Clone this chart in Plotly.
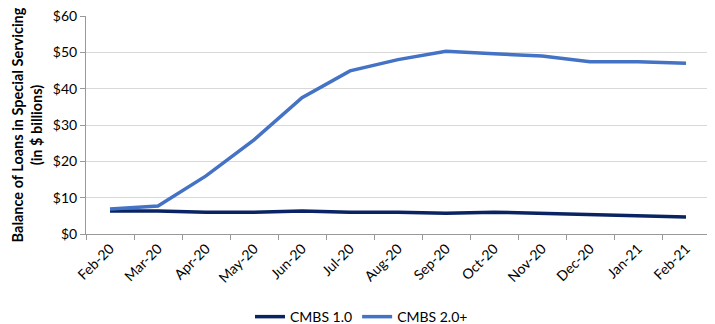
import plotly.graph_objects as go

months = ["Feb-20", "Mar-20", "Apr-20", "May-20", "Jun-20", "Jul-20", "Aug-20",
          "Sep-20", "Oct-20", "Nov-20", "Dec-20", "Jan-21", "Feb-21"]
cmbs_1 = [6.3, 6.3, 6.0, 6.0, 6.3, 6.0, 6.0, 5.7, 6.0, 5.7, 5.3, 5.0, 4.7]
cmbs_2 = [6.9, 7.7, 16.0, 25.9, 37.5, 44.9, 48.0, 50.3, 49.6, 49.0, 47.4, 47.4, 47.0]
y_ticks = [0, 10, 20, 30, 40, 50, 60]

font = "Lato, 'Open Sans', sans-serif"

fig = go.Figure()
fig.add_trace(go.Scatter(x=months, y=cmbs_1, mode="lines", name="CMBS 1.0",
                         line=dict(color="#0A2463", width=3.5)))
fig.add_trace(go.Scatter(x=months, y=cmbs_2, mode="lines", name="CMBS 2.0+",
                         line=dict(color="#4472C4", width=3.5)))

# page body has a default 8px margin, so the figure is drawn 8px in from top-left
fig.update_layout(
    width=707, height=316,
    margin=dict(l=78, r=5, t=8, b=90),
    paper_bgcolor="white", plot_bgcolor="white",
    font=dict(family=font, size=14, color="#000"),
    showlegend=True,
    legend=dict(orientation="h", xref="container", x=0.5, xanchor="center",
                yref="container", y=0.022, yanchor="middle",
                font=dict(size=14), tracegroupgap=0),
    xaxis=dict(type="category", tickson="boundaries", ticks="outside", ticklen=5,
               tickcolor="#999", showline=True, linecolor="#999", linewidth=1,
               showgrid=False, tickangle=-45, tickfont=dict(size=14),
               range=[-0.5, 12.5], automargin=False, ticklabeloverflow="allow"),
    yaxis=dict(range=[0, 60], tickvals=y_ticks,
               ticktext=["$" + str(v) for v in y_ticks],
               ticks="outside", ticklen=5, tickcolor="#999",
               showline=True, linecolor="#999", linewidth=1,
               showgrid=True, gridcolor="#d9d9d9", gridwidth=1,
               zeroline=False, tickfont=dict(size=14), automargin=False,
               ticklabeloverflow="allow",
               title=dict(text="<b>Balance of Loans in Special Servicing<br>(in $ billions)</b>",
                          font=dict(size=14.5), standoff=6)),
)

fig.write_html("out.html")
